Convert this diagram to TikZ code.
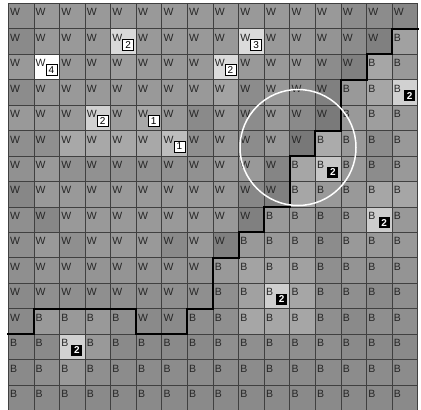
\documentclass[tikz,border=0pt]{standalone}
\usepackage{fontspec}
\setmainfont{Liberation Sans}
\tikzset{
  cellletter/.style={anchor=base west, inner sep=0pt, font=\fontsize{10.5}{11}\selectfont, text=black!85},
  wbadge/.style={draw=black, line width=0.6pt, fill=white, minimum size=11pt, inner sep=0pt, font=\fontsize{10}{10}\selectfont},
  bbadge/.style={fill=black, text=white, minimum size=11pt, inner sep=0pt, font=\fontsize{10}{10}\selectfont\bfseries},
  gridline/.style={draw=black!75, line width=0.7pt},
  regionborder/.style={line width=2pt, black, line cap=rect},
  ring/.style={draw=white, line width=1.5pt}
}
\begin{document}
\begin{tikzpicture}[x=1pt,y=-1pt]
\useasboundingbox (0,0) rectangle (421,410);
\begin{scope}[shift={(8.3,3.3)}, x=25.59pt, y=-25.45pt]
\foreach \rowdata [count=\r] in {
 {43/W,40/W,40/W,40/W,40/W,40/W,40/W,40/W,40/W,40/W,40/W,40/W,40/W,45/W,45/W,47/W},
 {46/W,40/W,40/W,40/W,15/W,40/W,40/W,40/W,40/W,14/W,40/W,40/W,42/W,45/W,50/W,37/B},
 {40/W,0/W,40/W,40/W,38/W,40/W,40/W,40/W,14/W,40/W,40/W,40/W,45/W,50/W,35/B,40/B},
 {45/W,40/W,40/W,40/W,40/W,40/W,40/W,40/W,36/W,45/W,40/W,44/W,50/W,40/B,35/B,18/B},
 {40/W,40/W,40/W,18/W,39/W,34/W,40/W,46/W,40/W,45/W,40/W,46/W,52/W,40/B,38/B,40/B},
 {44/W,44/W,34/W,34/W,34/W,34/W,26/W,44/W,40/W,45/W,40/W,53/W,33/B,40/B,45/B,40/B},
 {43/W,40/W,43/W,43/W,43/W,43/W,43/W,43/W,40/W,40/W,48/W,35/B,22/B,40/B,45/B,40/B},
 {47/W,40/W,40/W,40/W,40/W,40/W,40/W,40/W,40/W,47/W,50/W,35/B,40/B,40/B,35/B,35/B},
 {44/W,47/W,40/W,40/W,40/W,40/W,40/W,40/W,40/W,50/W,40/B,40/B,45/B,40/B,20/B,40/B},
 {44/W,40/W,44/W,40/W,40/W,40/W,46/W,40/W,50/W,40/B,40/B,40/B,45/B,40/B,40/B,40/B},
 {44/W,42/W,42/W,42/W,42/W,42/W,42/W,42/W,40/B,36/B,36/B,37/B,44/B,42/B,42/B,42/B},
 {46/W,44/W,44/W,44/W,44/W,44/W,44/W,44/W,44/B,37/B,19/B,35/B,44/B,44/B,46/B,44/B},
 {46/W,40/B,40/B,40/B,44/B,46/W,46/W,44/B,44/B,35/B,35/B,35/B,44/B,46/B,44/B,44/B},
 {46/B,46/B,18/B,40/B,46/B,46/B,46/B,46/B,44/B,44/B,44/B,44/B,44/B,46/B,46/B,46/B},
 {46/B,44/B,40/B,44/B,45/B,45/B,45/B,45/B,45/B,45/B,45/B,45/B,45/B,45/B,45/B,45/B},
 {46/B,46/B,46/B,46/B,46/B,46/B,46/B,46/B,46/B,46/B,46/B,46/B,46/B,46/B,46/B,46/B}}
{
  \foreach \g/\l [count=\c] in \rowdata {
    \fill[black!\g] (\c-1,\r-1) rectangle (\c,\r);
    \node[cellletter] (l\c-\r) at ([xshift=1.6pt,yshift=-12.5pt]\c-1,\r-1) {\l};
  }
}
\foreach \i in {0,...,16} {
  \draw[gridline] (\i,0) -- (\i,16);
  \draw[gridline] (0,\i) -- (16,\i);
}
\foreach \c/\r/\n in {5/2/2,10/2/3,2/3/4,9/3/2,4/5/2,6/5/1,7/6/1}
  \node[wbadge] (b\c-\r) at ([xshift=17.5pt,yshift=-16pt]\c-1,\r-1) {\n};
\foreach \c/\r/\n in {16/4/2,13/7/2,15/9/2,11/12/2,3/14/2}
  \node[bbadge] (b\c-\r) at ([xshift=17.5pt,yshift=-16pt]\c-1,\r-1) {\n};
\draw[regionborder] (16,1) -- (15,1) -- (15,2) -- (14,2) -- (14,3) -- (13,3) -- (13,5)
  -- (12,5) -- (12,6) -- (11,6) -- (11,8) -- (10,8) -- (10,9) -- (9,9) -- (9,10)
  -- (8,10) -- (8,12) -- (7,12) -- (7,13) -- (5,13) -- (5,12) -- (1,12) -- (1,13) -- (0,13);
\end{scope}
\coordinate (cc) at (298,147.5);
\draw[ring] (cc) circle (58pt);
\end{tikzpicture}
\end{document}
